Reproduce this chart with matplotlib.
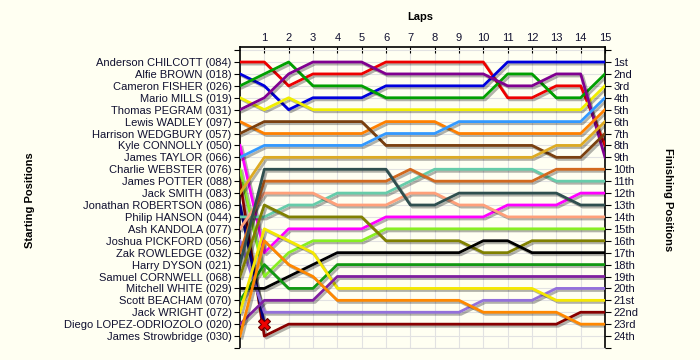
import matplotlib
matplotlib.use('Agg')
import matplotlib.pyplot as plt
import matplotlib.patheffects as pe

plt.rcParams['font.family'] = ['Liberation Sans', 'DejaVu Sans']

laps = list(range(0, 16))
lap_labels = [str(i) for i in range(1, 16)]

drivers = ["Anderson CHILCOTT (084)", "Alfie BROWN (018)", "Cameron FISHER (026)",
           "Mario MILLS (019)", "Thomas PEGRAM (031)", "Lewis WADLEY (097)",
           "Harrison WEDGBURY (057)", "Kyle CONNOLLY (050)", "James TAYLOR (066)",
           "Charlie WEBSTER (076)", "James POTTER (088)", "Jack SMITH (083)",
           "Jonathan ROBERTSON (086)", "Philip HANSON (044)", "Ash KANDOLA (077)",
           "Joshua PICKFORD (056)", "Zak ROWLEDGE (032)", "Harry DYSON (021)",
           "Samuel CORNWELL (068)", "Mitchell WHITE (029)", "Scott BEACHAM (070)",
           "Jack WRIGHT (072)", "Diego LOPEZ-ODRIOZOLO (020)", "James Strowbridge (030)"]

finish_labels = ["1st", "2nd", "3rd", "4th", "5th", "6th", "7th", "8th", "9th", "10th",
                 "11th", "12th", "13th", "14th", "15th", "16th", "17th", "18th", "19th",
                 "20th", "21st", "22nd", "23rd", "24th"]

pos_chilcott = [1, 1, 3, 2, 2, 2, 1, 1, 1, 1, 1, 4, 4, 3, 3, 8]
pos_brown = [2, 3, 5, 4, 4, 4, 3, 3, 3, 3, 3, 1, 1, 1, 1, 1]
pos_fisher = [3, 2, 1, 3, 3, 3, 4, 4, 4, 4, 4, 2, 2, 4, 4, 2]
pos_mills = [4, 5, 4, 5, 5, 5, 5, 5, 5, 5, 5, 5, 5, 5, 5, 3]
pos_pegram = [5, 4, 2, 1, 1, 1, 2, 2, 2, 2, 2, 3, 3, 2, 2, 9]
pos_wadley = [6, 7, 7, 7, 7, 7, 6, 6, 6, 7, 7, 7, 7, 7, 7, 5]
pos_wedgbury = [7, 6, 6, 6, 6, 6, 8, 8, 8, 8, 8, 8, 8, 9, 9, 7]
pos_connolly = [8, 17, 15, 15, 15, 15, 14, 14, 14, 14, 14, 13, 13, 13, 12, 12]
pos_taylor = [9, 8, 8, 8, 8, 8, 7, 7, 7, 6, 6, 6, 6, 6, 6, 4]
pos_webster = [10, 19, 17, 16, 16, 16, 15, 15, 15, 15, 15, 15, 15, 15, 15, 15]
pos_potter = [11, 24, 23, 23, 23, 23, 23, 23, 23, 23, 23, 23, 23, 23, 22, 22]
pos_smith = [12, 9, 9, 9, 9, 9, 9, 9, 9, 9, 9, 9, 9, 8, 8, 6]
pos_robertson = [13, 23]
pos_hanson = [14, 14, 13, 13, 12, 12, 12, 11, 10, 10, 10, 10, 10, 11, 11, 11]
pos_kandola = [15, 12, 12, 12, 13, 13, 13, 12, 12, 13, 13, 14, 14, 14, 14, 14]
pos_pickford = [16, 22, 22, 22, 22, 22, 22, 22, 22, 22, 21, 21, 21, 20, 20, 20]
pos_rowledge = [17, 11, 11, 11, 11, 11, 11, 10, 11, 11, 11, 11, 11, 10, 10, 10]
pos_dyson = [18, 10, 10, 10, 10, 10, 10, 13, 13, 12, 12, 12, 12, 12, 13, 13]
pos_cornwell = [19, 13, 14, 14, 14, 14, 16, 16, 16, 16, 17, 17, 16, 16, 16, 16]
pos_white = [20, 20, 19, 18, 17, 17, 17, 17, 17, 17, 16, 16, 17, 17, 17, 17]
pos_beacham = [21, 18, 20, 20, 18, 18, 18, 18, 18, 18, 18, 18, 18, 18, 18, 18]
pos_wright = [22, 15, 16, 17, 20, 20, 20, 20, 20, 20, 20, 20, 20, 21, 21, 21]
pos_lopez = [23, 21, 21, 21, 19, 19, 19, 19, 19, 19, 19, 19, 19, 19, 19, 19]
pos_strowbridge = [24, 16, 18, 19, 21, 21, 21, 21, 21, 21, 22, 22, 22, 22, 23, 23]

retired_lap = [1]
retired_pos = [23]

positions = [pos_chilcott, pos_brown, pos_fisher, pos_mills, pos_pegram, pos_wadley,
             pos_wedgbury, pos_connolly, pos_taylor, pos_webster, pos_potter, pos_smith,
             pos_robertson, pos_hanson, pos_kandola, pos_pickford, pos_rowledge, pos_dyson,
             pos_cornwell, pos_white, pos_beacham, pos_wright, pos_lopez, pos_strowbridge]

colors = ['#ee0000', '#0000dd', '#00a000', '#f0ee00', '#800090', '#ff8000',
          '#7a4010', '#ff00ff', '#3399ff', '#88ee22', '#880000', '#ddaa22',
          '#000080', '#66ccaa', '#ffa07a', '#9370db', '#d2691e', '#2f4f4f',
          '#808000', '#000000', '#119911', '#f5e800', '#8020a0', '#ff8800']

bg = '#fffff2'
txt = '#101030'

fig = plt.figure(figsize=(7.0, 3.6), dpi=100, facecolor=bg)
ax = fig.add_axes([240/700, 1-348/360, 365/700, 301/360])
ax.set_facecolor(bg)

shadow = [pe.SimpleLineShadow(offset=(1.5, -1.5), shadow_color='black', alpha=0.3), pe.Normal()]
for p, c in zip(positions, colors):
    ax.plot(laps[:len(p)], p, color=c, lw=2.0, solid_joinstyle='round',
            path_effects=shadow, zorder=3)

ax.plot(retired_lap, retired_pos, marker='X', ms=9, color='#ee0000',
        markeredgecolor='#660000', markeredgewidth=0.8, ls='none', zorder=5)

ax.set_xlim(0, 15)
ax.set_ylim(25, -0.26)

ax.xaxis.tick_top()
ax.set_xticks(range(1, 16))
ax.set_xticklabels(lap_labels, fontsize=8, color=txt)
ax.tick_params(axis='x', direction='in', length=4, pad=3, colors='black', labelcolor=txt)
ax.set_xticks(range(0, 16), minor=False) if False else None

ax.set_yticks(range(0, 26))
ax.set_yticklabels([''] + drivers + [''], fontsize=8, color=txt)
ax.tick_params(axis='y', direction='out', length=4, pad=2, colors='black', labelcolor=txt)

ax.grid(True, color='#e2e2e2', lw=0.8, zorder=0)
ax.set_axisbelow(True)

for s in ['left', 'right', 'top']:
    ax.spines[s].set_color('black')
    ax.spines[s].set_linewidth(1.2)
ax.spines['bottom'].set_color('#dddddd')

ax2 = ax.twinx()
ax2.set_ylim(25, -0.26)
ax2.set_yticks(range(0, 26))
ax2.set_yticklabels([''] + finish_labels + [''], fontsize=8, color=txt)
ax2.tick_params(axis='y', direction='out', length=4, pad=2, colors='black', labelcolor=txt)
for s in ['left', 'right', 'top', 'bottom']:
    ax2.spines[s].set_visible(False)

fig.text(420/700, 1-17/360, 'Laps', ha='center', va='center', fontsize=8,
         fontweight='bold', color='black')
fig.text(30/700, 1-200/360, 'Starting Positions', ha='center', va='center', fontsize=8,
         fontweight='bold', rotation=90, color='black')
fig.text(668/700, 1-200/360, 'Finishing Positions', ha='center', va='center', fontsize=8,
         fontweight='bold', rotation=-90, color='black')

fig.savefig('out.png', dpi=100, facecolor=bg)
